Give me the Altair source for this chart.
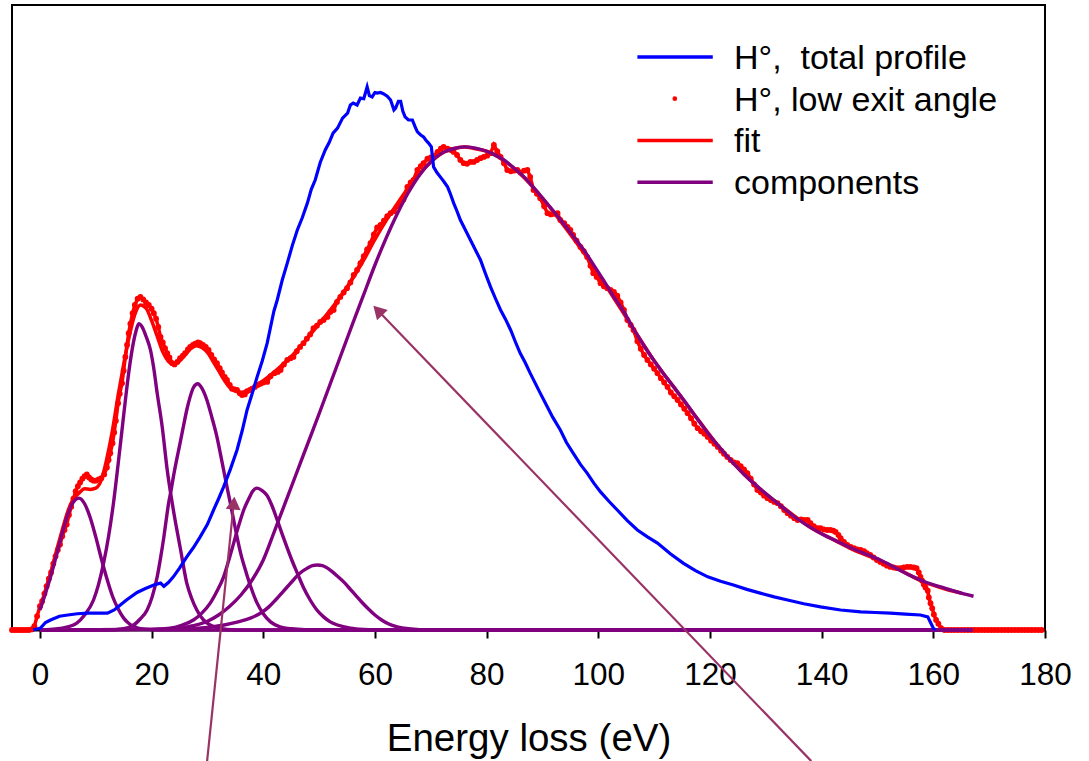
import altair as alt
import pandas as pd

# ---------------- data: (energy loss eV, intensity a.u.) ----------------
# Blue: H°, total profile
blue_pts = [(-1.2, 0.0), (0.1, 0.3), (1.0, 1.2), (1.9, 1.6), (3.5, 2.2), (5.0, 2.4), (6.7, 2.6), (8.5, 2.7),
            (10.3, 2.7), (12.1, 2.7), (13.3, 3.2), (14.4, 4.0), (15.5, 4.8), (17.4, 6.0), (18.8, 6.6),
            (20.4, 7.2), (21.6, 7.5), (22.2, 7.0), (23.0, 7.6), (23.9, 8.5), (25.0, 9.9), (26.3, 11.7),
            (27.5, 13.2), (28.7, 14.9), (30.0, 16.9), (31.1, 19.2), (32.0, 21.0), (32.9, 22.9), (34.1, 25.7),
            (35.3, 28.8), (36.2, 31.8), (37.1, 35.2), (38.0, 37.8), (38.9, 40.5), (39.8, 43.0), (40.7, 45.9),
            (41.9, 51.0), (42.5, 52.8), (43.4, 56.0), (44.3, 58.7), (45.2, 61.5), (46.1, 64.0), (47.0, 66.0),
            (47.9, 68.3), (48.6, 70.5), (49.3, 72.0), (50.2, 74.8), (51.1, 76.8), (51.8, 78.0), (52.5, 79.5),
            (53.3, 80.3), (54.2, 81.9), (55.1, 82.7), (55.6, 84.0), (56.1, 84.3), (56.8, 84.0), (57.4, 85.1),
            (58.0, 85.0), (58.6, 86.9), (59.0, 85.5), (59.5, 85.3), (60.0, 86.0), (60.4, 85.9), (61.0, 86.0),
            (61.5, 85.8), (62.2, 85.4), (62.8, 84.8), (63.4, 83.2), (63.7, 83.5), (64.2, 84.6), (64.6, 84.6),
            (65.0, 83.0), (65.4, 82.1), (66.0, 81.6), (66.7, 81.6), (67.2, 80.5), (67.6, 79.7), (68.2, 79.2),
            (68.7, 78.9), (69.1, 78.4), (69.6, 77.9), (70.1, 77.3), (70.5, 74.1), (71.1, 73.2), (71.7, 72.5),
            (72.3, 71.8), (73.0, 70.9), (73.5, 69.8), (74.1, 68.3), (74.7, 67.0), (75.3, 65.6), (76.2, 64.0),
            (77.1, 62.4), (78.0, 60.8), (78.9, 59.2), (79.8, 57.0), (80.7, 54.9), (81.6, 53.0), (82.5, 51.2),
            (83.4, 49.7), (84.3, 48.0), (85.2, 46.0), (86.0, 44.3), (86.9, 42.8), (87.8, 41.1), (88.7, 39.5),
            (89.6, 37.9), (90.7, 36.0), (91.8, 34.1), (93.2, 32.0), (94.3, 30.0), (95.5, 28.3), (96.8, 26.5),
            (98.0, 25.1), (99.2, 23.5), (100.4, 22.1), (101.9, 20.6), (103.4, 19.2), (105.2, 17.5),
            (107.0, 16.0), (108.8, 14.9), (110.6, 13.9), (112.9, 12.2), (115.2, 10.7), (117.4, 9.5),
            (119.6, 8.5), (121.9, 7.8), (124.2, 7.2), (126.6, 6.5), (129.0, 5.9), (131.5, 5.3), (133.9, 4.8),
            (136.8, 4.2), (139.8, 3.7), (143.4, 3.2), (147.0, 2.9), (149.6, 2.8), (152.3, 2.7), (155.0, 2.55),
            (157.7, 2.4), (159.0, 2.1), (159.5, 1.2), (160.0, 0.3), (160.4, 0.0)]

# Red dots: H°, low exit angle
red_pts = [(-5.0, 0.0), (-4.5, 0.0), (-4.0, 0.0), (-3.5, 0.0), (-3.0, 0.0), (-2.5, 0.0), (-2.0, 0.0),
           (-1.5, 0.1), (-1.0, 0.6), (-0.5, 2.2), (0.0, 3.8), (0.4, 4.6), (0.8, 5.8), (1.2, 7.0), (1.6, 8.2),
           (2.0, 9.2), (2.4, 10.6), (2.8, 11.8), (3.2, 12.8), (3.6, 13.7), (4.0, 15.0), (4.4, 16.0),
           (4.8, 16.9), (5.2, 18.4), (5.6, 19.7), (6.0, 21.0), (6.4, 22.2), (6.8, 23.0), (7.2, 23.6),
           (7.6, 24.2), (8.0, 24.6), (8.4, 24.9), (8.8, 24.4), (9.2, 24.1), (9.6, 23.9), (10.0, 23.9),
           (10.5, 24.1), (11.0, 24.3), (11.5, 24.9), (12.0, 26.0), (12.3, 27.2), (12.6, 28.3), (13.0, 29.9),
           (13.3, 31.6), (13.6, 33.5), (14.0, 36.3), (14.3, 37.8), (14.7, 39.5), (15.0, 41.5), (15.3, 43.7),
           (15.6, 45.6), (15.9, 47.5), (16.2, 49.0), (16.6, 50.7), (17.0, 52.0), (17.5, 53.0), (18.0, 53.3),
           (18.5, 52.9), (19.0, 52.4), (19.5, 52.0), (20.0, 51.4), (20.4, 50.7), (20.8, 49.8), (21.2, 48.5),
           (21.6, 46.9), (22.0, 46.0), (22.4, 45.1), (22.8, 44.3), (23.2, 43.6), (23.7, 42.7), (24.1, 42.5),
           (24.6, 42.9), (25.1, 43.5), (25.6, 43.9), (26.0, 44.3), (26.5, 44.9), (26.9, 45.3), (27.4, 45.6),
           (27.8, 45.8), (28.3, 46.0), (28.7, 45.9), (29.2, 45.6), (29.7, 45.3), (30.2, 44.8), (30.7, 44.0),
           (31.2, 43.3), (31.7, 42.7), (32.2, 41.9), (32.6, 41.2), (33.1, 40.5), (33.5, 40.0), (34.0, 39.2),
           (34.4, 38.6), (34.9, 38.5), (35.3, 38.4), (35.8, 37.9), (36.2, 37.6), (36.7, 37.7), (37.1, 38.2),
           (37.6, 38.4), (38.0, 38.6), (38.5, 38.9), (39.0, 39.2), (39.5, 39.4), (40.0, 39.6), (40.7, 39.7),
           (41.3, 40.6), (42.0, 41.1), (42.6, 41.3), (43.1, 41.6), (43.7, 42.5), (44.3, 43.2), (44.9, 43.5),
           (45.4, 43.7), (46.0, 44.6), (46.6, 45.3), (47.2, 45.9), (47.8, 46.6), (48.4, 47.3), (49.0, 48.3),
           (49.6, 48.7), (50.2, 49.3), (50.8, 49.6), (51.5, 50.1), (52.0, 50.9), (52.6, 51.2), (53.2, 52.5),
           (53.8, 53.3), (54.4, 54.0), (55.0, 54.7), (55.6, 55.6), (56.2, 56.8), (56.8, 57.6), (57.4, 58.7),
           (58.0, 59.8), (58.6, 60.9), (59.2, 61.9), (59.8, 63.3), (60.4, 64.4), (61.0, 64.8), (61.6, 65.5),
           (62.2, 66.2), (62.8, 66.7), (63.4, 67.0), (64.0, 67.8), (64.6, 68.3), (65.1, 68.9), (65.8, 70.9),
           (66.4, 71.6), (66.9, 72.0), (67.6, 73.6), (68.2, 74.2), (68.7, 74.7), (69.4, 75.4), (70.0, 75.6),
           (70.5, 75.8), (71.2, 76.5), (71.8, 77.0), (72.3, 77.3), (73.0, 77.0), (73.6, 76.8), (74.1, 76.5),
           (74.7, 76.0), (75.3, 75.2), (75.9, 74.7), (76.5, 74.6), (77.1, 74.9), (77.7, 74.9), (78.3, 75.2),
           (78.9, 75.5), (79.5, 75.7), (80.1, 75.9), (80.7, 76.3), (81.3, 77.6), (81.9, 76.6), (82.5, 75.7),
           (83.1, 74.7), (83.7, 73.6), (84.3, 73.4), (84.9, 73.5), (85.5, 73.6), (86.1, 73.2), (86.7, 73.5),
           (87.3, 73.6), (87.8, 72.5), (88.4, 70.4), (89.0, 69.8), (89.6, 69.1), (90.3, 67.8), (90.9, 66.7),
           (91.5, 66.5), (92.1, 66.6), (92.7, 66.7), (93.2, 65.6), (93.9, 65.1), (94.5, 64.5), (95.0, 64.0),
           (95.5, 63.2), (96.1, 62.3), (96.8, 61.3), (97.4, 60.6), (98.0, 59.7), (98.6, 58.3), (99.1, 57.1),
           (99.7, 56.5), (100.4, 55.5), (101.0, 55.0), (101.6, 54.7), (102.2, 54.4), (102.8, 54.1),
           (103.4, 53.5), (104.0, 52.4), (104.6, 51.2), (105.2, 49.6), (105.8, 48.8), (106.3, 48.0),
           (107.0, 46.2), (107.6, 45.0), (108.2, 44.0), (108.8, 43.2), (109.4, 42.5), (110.0, 41.8),
           (110.6, 41.1), (111.2, 40.3), (111.8, 39.6), (112.4, 38.9), (113.0, 38.0), (113.6, 37.4),
           (114.2, 36.8), (114.8, 36.1), (115.4, 35.4), (116.0, 34.7), (116.6, 33.9), (117.2, 33.0),
           (117.8, 32.3), (118.4, 31.8), (119.0, 31.4), (119.6, 30.9), (120.2, 30.3), (120.8, 29.8),
           (121.4, 29.3), (122.0, 28.7), (122.5, 28.2), (123.1, 27.7), (123.7, 27.2), (124.3, 26.8),
           (124.9, 26.7), (125.5, 26.2), (126.1, 25.7), (126.7, 25.1), (127.3, 24.2), (127.9, 23.3),
           (128.5, 22.4), (129.1, 22.0), (129.7, 21.5), (130.3, 21.1), (130.9, 20.8), (131.5, 20.5),
           (132.1, 20.3), (132.7, 19.8), (133.3, 19.2), (133.9, 18.7), (134.5, 18.3), (135.1, 17.9),
           (135.7, 17.6), (136.3, 17.7), (136.9, 17.6), (137.5, 17.6), (138.0, 17.1), (138.6, 16.6),
           (139.3, 16.3), (139.8, 16.3), (140.4, 16.1), (141.0, 16.0), (141.6, 16.0), (142.1, 15.9),
           (142.5, 15.7), (143.0, 15.2), (143.4, 14.7), (144.0, 14.1), (144.6, 13.6), (145.2, 13.3),
           (145.8, 13.1), (146.4, 12.9), (147.0, 12.8), (147.6, 12.6), (148.1, 12.3), (148.7, 12.0),
           (149.3, 11.6), (149.9, 11.2), (150.5, 10.9), (151.1, 10.6), (151.7, 10.3), (152.3, 10.1),
           (152.9, 10.0), (153.5, 9.9), (154.1, 9.9), (154.7, 10.0), (155.3, 10.1), (155.9, 10.1),
           (156.5, 10.0), (157.0, 9.9), (157.4, 9.2), (157.7, 8.5), (158.0, 7.9), (158.3, 7.3), (158.6, 6.8),
           (159.0, 6.3), (159.2, 5.2), (159.5, 4.3), (159.8, 3.5), (160.1, 2.5), (160.5, 1.6), (160.9, 1.0),
           (161.4, 0.3), (162.0, 0.0), (162.6, 0.0), (163.2, 0.0), (163.8, 0.0), (164.4, 0.0), (165.0, 0.0),
           (165.6, 0.0), (166.2, 0.0), (166.8, 0.0), (167.4, 0.0), (168.0, 0.0), (168.6, 0.0), (169.2, 0.0),
           (169.8, 0.0), (170.4, 0.0), (171.0, 0.0), (171.6, 0.0), (172.2, 0.0), (172.8, 0.0), (173.4, 0.0),
           (174.0, 0.0), (174.6, 0.0), (175.2, 0.0), (175.8, 0.0), (176.4, 0.0), (177.0, 0.0), (177.6, 0.0),
           (178.2, 0.0), (178.8, 0.0), (179.4, 0.0)]

# Red line: fit
fit_pts = [(0, 3.3), (1, 6.2), (2, 9.4), (3, 12.8), (4, 16.0), (5, 19.0), (6, 21.0), (7, 21.9), (8, 22.6),
           (9, 22.5), (10, 22.7), (11, 24.0), (12, 27.5), (13, 32.0), (14, 37.5), (15, 42.5), (16, 47.0),
           (17, 50.5), (18, 52.0), (19, 51.5), (20, 49.5), (21, 47.0), (22, 44.5), (23, 43.0), (24, 42.5),
           (25, 43.0), (26, 44.0), (27, 45.0), (28, 45.5), (29, 45.2), (30, 44.4), (31, 43.0), (32, 41.5),
           (33, 40.0), (34, 38.8), (35, 38.2), (36, 38.0), (37, 38.2), (38, 38.7), (39, 39.3), (40, 39.9),
           (42, 41.3), (44, 42.9), (46, 44.7), (48, 46.8), (50, 49.0), (52, 51.2), (54, 53.6), (56, 56.2),
           (58, 59.2), (60, 62.5), (62, 65.5), (64, 68.2), (66, 70.8), (68, 73.0), (70, 74.9), (72, 76.3),
           (74, 77.0), (76, 77.3), (78, 77.0), (80, 76.6), (83, 75.2), (86, 73.0), (90, 69.1), (94, 64.5),
           (98, 59.6), (102, 54.2), (106, 48.6), (110, 43.1), (114, 38.3), (118, 33.5), (122, 28.9),
           (126, 25.0), (130, 21.8), (134, 19.0), (138, 16.4), (142, 14.5), (146, 12.7), (150, 11.3),
           (154, 9.6), (158, 7.8), (162, 6.6), (165, 5.9)]

# Purple: fit components
comp1_pts = [(0, 3.2), (1, 5.9), (2, 8.8), (3, 12.1), (4, 15.5), (5, 18.5), (6, 20.5), (7, 21.1), (8, 20.2),
             (9, 18.0), (10, 14.9), (11, 11.4), (12, 8.2), (13, 5.4), (14, 3.4), (15, 1.9), (16, 1.0),
             (17, 0.5), (18, 0.2), (20, 0.05), (22, 0), (167, 0)]
comp2_pts = [(0, 0), (4, 0.3), (6.6, 1.1), (8.0, 2.4), (9.6, 4.8), (10.5, 7.3), (11.4, 10.7), (12.3, 15.0),
             (13.2, 20.5), (14.0, 26.5), (14.7, 32.0), (15.4, 37.5), (16.0, 41.8), (16.6, 45.3), (17.2, 47.8),
             (17.7, 49.0), (18.3, 48.5), (19.0, 47.0), (19.8, 44.8), (20.4, 41.8), (21.0, 37.9), (21.9, 32.5),
             (22.8, 25.6), (23.9, 19.2), (25.2, 12.8), (26.3, 7.5), (27.2, 5.0), (28.1, 3.2), (29.3, 1.6),
             (30.5, 0.8), (32, 0.3), (35, 0), (167, 0)]
comp3_pts = [(0, 0), (12, 0), (15, 0.2), (16.8, 0.8), (18.0, 1.8), (19.2, 3.2), (20.1, 5.3), (21.0, 8.5),
             (21.6, 11.5), (22.2, 14.9), (22.6, 17.5), (23.05, 20.3), (23.5, 22.4), (23.9, 24.5), (24.5, 27.3),
             (25.1, 29.9), (25.7, 32.6), (26.3, 35.2), (26.9, 37.3), (27.5, 38.8), (28.25, 39.4), (29.0, 38.7),
             (29.9, 36.8), (30.8, 34.0), (31.7, 30.9), (32.3, 28.3), (32.9, 25.6), (33.5, 22.9), (34.1, 20.3),
             (34.7, 17.6), (35.3, 14.9), (36.0, 12.1), (36.8, 9.6), (37.8, 6.8), (38.9, 4.3), (40.0, 2.6),
             (41.3, 1.3), (43.0, 0.5), (45.0, 0.2), (50, 0), (167, 0)]
comp4_pts = [(0, 0), (20, 0.1), (23.4, 0.3), (25.5, 0.8), (27.5, 1.6), (29.0, 2.7), (30.5, 4.3), (31.7, 6.2),
             (32.9, 8.5), (33.8, 11.1), (34.7, 13.9), (35.6, 16.7), (36.5, 19.2), (37.4, 21.0), (38.1, 22.2),
             (38.9, 22.7), (39.8, 22.3), (40.7, 21.5), (41.6, 19.8), (42.5, 17.6), (43.4, 15.3), (44.3, 13.1),
             (45.2, 11.0), (46.1, 9.1), (47.2, 6.8), (48.4, 4.8), (49.6, 3.2), (50.8, 2.1), (52.0, 1.3),
             (53.3, 0.8), (55.6, 0.3), (58, 0.1), (62, 0), (167, 0)]
comp5_pts = [(0, 0), (25, 0.1), (30, 0.4), (33, 0.8), (35.5, 1.3), (37.7, 1.9), (39.7, 2.8), (41.0, 3.7),
             (42.2, 4.8), (43.2, 5.8), (44.2, 6.8), (45.2, 7.8), (46.1, 8.7), (47.0, 9.4), (47.9, 9.9),
             (48.8, 10.3), (49.7, 10.4), (50.6, 10.3), (51.5, 9.9), (52.4, 9.3), (53.3, 8.6), (54.4, 7.7),
             (55.5, 6.6), (56.6, 5.5), (57.7, 4.4), (58.8, 3.4), (60.0, 2.4), (61.2, 1.6), (62.4, 1.0),
             (64.0, 0.5), (66.0, 0.2), (70.0, 0), (167, 0)]
comp6_pts = [(0, 0), (20, 0.1), (24, 0.3), (27.5, 0.7), (30, 1.4), (32, 2.4), (34, 3.8), (36, 5.6), (38, 8.0),
             (40, 11.2), (42, 15.8), (44, 20.5), (46, 25.2), (48, 29.9), (50, 34.6), (52, 39.4), (54, 44.2),
             (56, 49.0), (58, 53.7), (60, 58.4), (62, 62.7), (64, 66.6), (66, 70.0), (68, 72.8), (70, 74.9),
             (72, 76.3), (74, 77.0), (76, 77.3), (78, 77.1), (80, 76.6), (81.3, 76.1),
             (83.1, 75.2), (84.9, 73.9), (86.7, 72.5), (88.5, 70.7), (90.3, 68.8), (92.0, 67.0), (93.7, 65.1),
             (95.5, 63.0), (97.4, 60.8), (99.1, 58.5), (100.9, 56.0), (102.7, 53.4), (104.5, 51.0),
             (106.3, 48.2), (108.1, 45.6), (109.9, 43.2), (111.7, 41.0), (113.5, 38.9), (115.3, 36.8),
             (117.0, 34.7), (118.8, 32.5), (120.6, 30.4), (122.4, 28.5), (124.2, 26.7), (126.0, 25.0),
             (127.8, 23.5), (129.6, 22.1), (131.4, 20.8), (133.2, 19.5), (135.0, 18.2), (136.8, 17.1),
             (138.6, 16.1), (140.4, 15.2), (142.5, 14.3), (144.6, 13.4), (147.5, 12.3), (150.5, 11.2),
             (153.5, 9.8), (156.4, 8.5), (158.8, 7.6), (161.3, 6.9), (164.2, 6.1), (167.2, 5.4)]

# Annotation arrows (tail -> head), in data units
arrow_x = [29.94, 138.14]
arrow_y = [-20.98, -20.98]
arrow_x2 = [34.72, 60.53]
arrow_y2 = [20.3, 51.13]
arrow_angle = [5.7, 316.1]

# Legend
legend_labels = ["H°,\u00a0 total profile", "H°, low exit angle", "fit", "components"]
legend_colors = ["#0000FF", "#FF0000", "#FF0000", "#800080"]
legend_kind = ["line", "dot", "line", "line"]

x_ticks = [0, 20, 40, 60, 80, 100, 120, 140, 160, 180]
x_title = "Energy loss (eV)"

# ---------------- chart ----------------
BLUE, RED, PURPLE, ARROW = "#0000FF", "#FF0000", "#800080", "#993366"
FONT = "Liberation Sans"


def frame(pts, **extra):
    df = pd.DataFrame(pts, columns=["E", "I"])
    for k, v in extra.items():
        df[k] = v
    return df


xs = alt.Scale(domain=[-5, 180], nice=False, zero=False)
ys = alt.Scale(domain=[0, 100], nice=False, zero=False)
XAXIS = alt.Axis(values=x_ticks, grid=False, labelFont=FONT, labelFontSize=31.5, labelColor="black",
                 labelPadding=21, labelFlush=False, labelOverlap=False, tickSize=8, tickWidth=2,
                 tickColor="black", domainColor="black", domainWidth=2,
                 titleFont=FONT, titleFontSize=38.5, titleFontWeight="normal", titleColor="black",
                 titleBaseline="alphabetic", titleY=120)


def X(f="E"):
    return alt.X(f"{f}:Q", scale=xs, axis=XAXIS, title=x_title)


def Y(f="I"):
    return alt.Y(f"{f}:Q", scale=ys, axis=None)


blue_df = frame(blue_pts)
red_df = frame(red_pts)
fit_df = frame(fit_pts)
comp_df = pd.concat([frame(p, comp=f"c{i + 1}") for i, p in enumerate(
    [comp1_pts, comp2_pts, comp3_pts, comp4_pts, comp5_pts, comp6_pts])], ignore_index=True)
arrow_df = pd.DataFrame({"x": arrow_x, "y": arrow_y, "x2": arrow_x2, "y2": arrow_y2, "ang": arrow_angle})

# legend placement (data units of the plot)
LEG_TOP, LEG_STEP = 91.7, 6.68
LEG_X0, LEG_X1, LEG_DOT, LEG_TXT = 107.0, 120.5, 113.7, 124.3
leg_df = pd.DataFrame({"label": legend_labels, "color": legend_colors, "kind": legend_kind,
                       "row": list(range(len(legend_labels)))})
leg_base = alt.Chart(leg_df).transform_calculate(
    ly=f"{LEG_TOP} - {LEG_STEP} * datum.row",
    lx0=f"{LEG_X0}", lx1=f"{LEG_X1}", ld=f"{LEG_DOT}", lt=f"{LEG_TXT}")

data_line = alt.Chart(red_df).mark_line(color=RED, strokeWidth=3.5).encode(x=X(), y=Y())
dots_layer = alt.Chart(red_df).mark_circle(color=RED, size=34, opacity=1).encode(x=X(), y=Y())
fit_layer = alt.Chart(fit_df).mark_line(color=RED, strokeWidth=3.5, interpolate="monotone").encode(x=X(), y=Y())
comp_layer = alt.Chart(comp_df).mark_line(color=PURPLE, strokeWidth=3.4, interpolate="monotone").encode(
    x=X(), y=Y(), detail="comp:N")
blue_layer = alt.Chart(blue_df).mark_line(color=BLUE, strokeWidth=3.2).encode(x=X(), y=Y())

arrow_lines = alt.Chart(arrow_df).mark_rule(color=ARROW, strokeWidth=2.2).encode(
    x=X("x"), y=Y("y"), x2="x2:Q", y2="y2:Q")
arrow_heads = alt.Chart(arrow_df).mark_point(shape="triangle-up", filled=True, size=225,
                                             color=ARROW, opacity=1).encode(
    x=X("x2"), y=Y("y2"), angle=alt.Angle("ang:Q", scale=None))

leg_lines = leg_base.transform_filter("datum.kind == 'line'").mark_rule(strokeWidth=3.5).encode(
    x=X("lx0"), x2="lx1:Q", y=Y("ly"), color=alt.Color("color:N", scale=None))
leg_dot = leg_base.transform_filter("datum.kind == 'dot'").mark_circle(size=22, opacity=1).encode(
    x=X("ld"), y=Y("ly"), color=alt.Color("color:N", scale=None))
leg_text = leg_base.mark_text(align="left", baseline="alphabetic", dy=12, font=FONT,
                              fontSize=34, color="black").encode(
    x=X("lt"), y=Y("ly"), text="label:N")

chart = alt.layer(data_line, dots_layer, fit_layer, comp_layer, blue_layer,
                  arrow_lines, arrow_heads, leg_lines, leg_dot, leg_text).properties(
    width=1033, height=625,
    padding={"left": 12, "top": 5, "right": 44, "bottom": 131},
    autosize=alt.AutoSizeParams(type="none"),
    background="white",
).configure_view(stroke="black", strokeWidth=2)

chart.save("out.html", embed_options={"renderer": "svg", "actions": False})
